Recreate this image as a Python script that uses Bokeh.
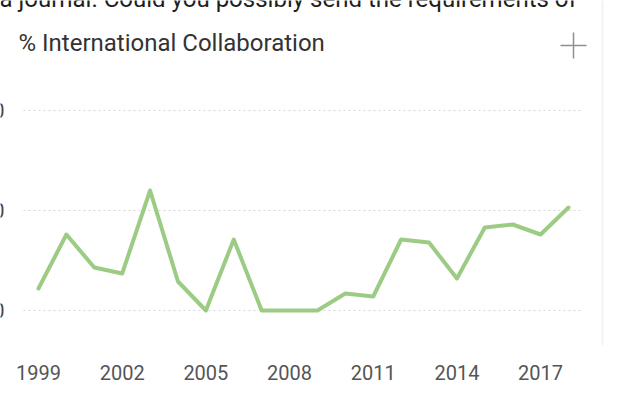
from bokeh.plotting import figure
from bokeh.models import FixedTicker, Span, Range1d
from bokeh.core.properties import value
from bokeh.embed import file_html
from bokeh.resources import INLINE

# ---- data ----
years = list(range(1999, 2019))
pct_collab = [11, 38, 21.5, 18.5, 60, 14.5, 0, 35.5, 0, 0,
              0, 8.5, 7, 35.5, 34, 16, 41.5, 43, 38, 51.5]
x_ticks = [1999, 2002, 2005, 2008, 2011, 2014, 2017]
y_ticks = [0, 50, 100]
y_tick_labels = ["0", "50", "100"]
title_text = "% International Collaboration"
top_text = "a journal. Could you possibly send the requirements of"

# ---- geometry (screen -> data helpers) ----
W, H = 612, 387
PX_PER_YEAR = 530 / 19.0
X0 = 1999 - 38 / PX_PER_YEAR
X1 = X0 + W / PX_PER_YEAR
PX_PER_UNIT = 2.0
FRAME_H = 345
Y1 = 310 / PX_PER_UNIT
Y0 = (310 - FRAME_H) / PX_PER_UNIT


def sx(px):
    return X0 + px / PX_PER_YEAR


def sy(py):
    return (310 - py) / PX_PER_UNIT


p = figure(width=W, height=H, output_backend="svg", toolbar_location=None,
           x_range=Range1d(X0, X1), y_range=Range1d(Y0, Y1),
           min_border_left=0, min_border_right=0, min_border_top=0,
           min_border_bottom=H - FRAME_H)
p.outline_line_color = None
p.background_fill_color = "white"
p.border_fill_color = "white"
p.xgrid.visible = False
p.ygrid.visible = False
p.yaxis.visible = False

ax = p.xaxis[0]
ax.ticker = FixedTicker(ticks=x_ticks)
ax.major_label_text_font = "Roboto"
ax.major_label_text_font_size = "20px"
ax.major_label_text_color = "#555555"
ax.axis_line_color = None
ax.major_tick_line_color = None
ax.minor_tick_line_color = None
ax.major_label_standoff = 13

# dotted gridlines
p.segment(x0=[sx(23)] * len(y_ticks), x1=[sx(582)] * len(y_ticks),
          y0=y_ticks, y1=y_ticks, line_color="#d6d6d6", line_width=1.2,
          line_dash="2 3")

# clipped y tick labels (only last digit visible at the left edge)
p.text(x=[sx(4)] * len(y_ticks), y=y_ticks, text=y_tick_labels,
       text_align="right", text_baseline="middle",
       text_font=value("Roboto"), text_font_size="20px", text_color="#444444")

# series line
p.line(years, pct_collab, line_color="#9ccc84", line_width=4,
       line_join="round", line_cap="round")

# title
p.text(x=[sx(18)], y=[sy(42)], text=[title_text], text_align="left",
       text_baseline="alphabetic", text_font=value("Roboto"),
       text_font_size="24px", text_color="#333333")

# top cut-off sentence
p.text(x=[sx(-1)], y=[sy(-2)], text=[top_text], text_align="left",
       text_baseline="alphabetic", text_font=value("Roboto"),
       text_font_size="24px", text_color="#1e1e1e")

# plus icon
p.scatter(x=[sx(573)], y=[sy(45)], marker="cross", size=26,
          line_color="#8f8f8f", line_width=1.5)

# card border on the right
p.add_layout(Span(location=sx(602), dimension="height",
                  line_color="#f0f0f0", line_width=1.5))

open("out.html", "w").write(file_html(p, INLINE))
